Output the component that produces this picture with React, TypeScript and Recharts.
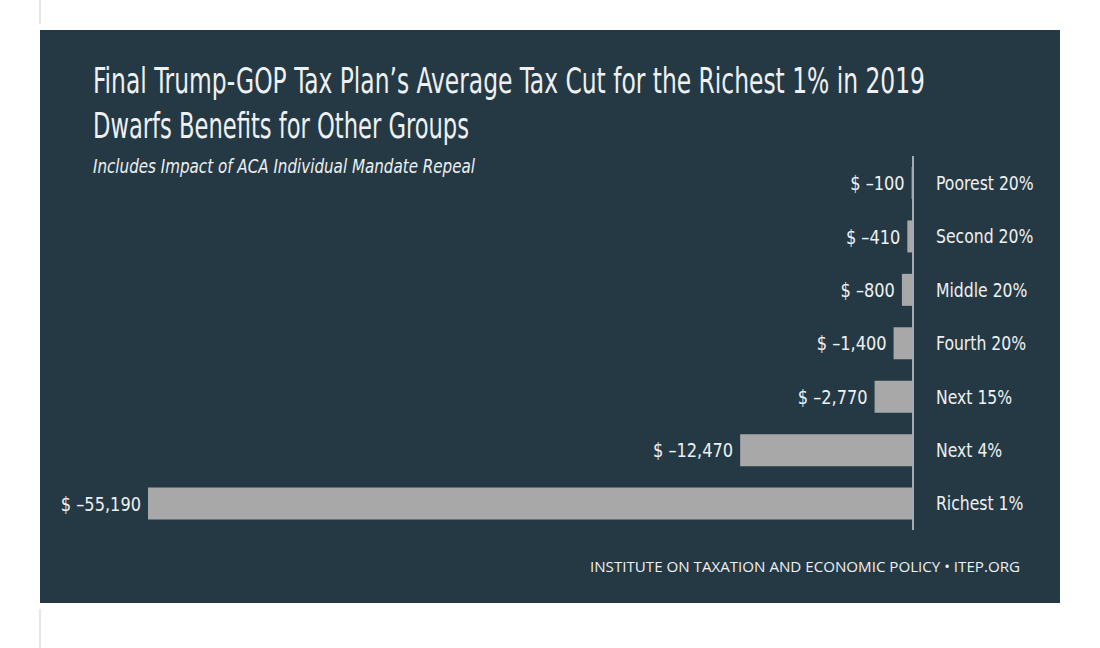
import React from "react";
import { BarChart, Bar, XAxis, YAxis, ReferenceLine, LabelList } from "recharts";

const categories = ["Poorest 20%", "Second 20%", "Middle 20%", "Fourth 20%", "Next 15%", "Next 4%", "Richest 1%"];
const taxCut = [-100, -410, -800, -1400, -2770, -12470, -55190];

const titleLines = [
  "Final Trump-GOP Tax Plan\u2019s Average Tax Cut for the Richest 1% in 2019",
  "Dwarfs Benefits for Other Groups",
];
const subtitle = "Includes Impact of ACA Individual Mandate Repeal";
const footer = "INSTITUTE ON TAXATION AND ECONOMIC POLICY \u2022 ITEP.ORG";

const data = categories.map((name, i) => ({ name, value: taxCut[i] }));

const NARROW = "'Liberation Sans Narrow', 'DejaVu Sans Condensed', 'Roboto', sans-serif";
const PANEL = "#253945";
const TEXT = "#eef0f1";
const BAR = "#a8a8a8";

const fmt = (v: number) => `$ \u2013${Math.abs(v).toLocaleString("en-US")}`;

const ValueLabel = (props: any) => {
  const { x, y, width, height, value } = props;
  const left = Math.min(Number(x), Number(x) + Number(width));
  const tx = left - 7;
  const ty = Number(y) + Number(height) / 2;
  return (
    <g transform={`translate(${tx},${ty}) scale(0.9,1)`}>
      <text x={0} y={0} dy="0.36em" textAnchor="end" fill={TEXT} fontSize={20} fontFamily={NARROW}>
        {fmt(Number(value))}
      </text>
    </g>
  );
};

const CategoryTick = (props: any) => {
  const { x, y, payload } = props;
  return (
    <g transform={`translate(${Number(x)},${Number(y)}) scale(0.87,1)`}>
      <text x={0} y={0} dy="0.36em" textAnchor="start" fill={TEXT} fontSize={20} fontFamily={NARROW}>
        {payload.value}
      </text>
    </g>
  );
};

export default function App() {
  return (
    <div style={{ position: "absolute", left: 0, top: 0, width: 1100, height: 648, background: "#fff", overflow: "hidden" }}>
      <svg width={1100} height={648} style={{ position: "absolute", left: 0, top: 0 }}>
        <rect x={39} y={0} width={2} height={24} fill="#e6e6e6" />
        <rect x={39} y={609} width={2} height={39} fill="#e6e6e6" />
        <rect x={40} y={30} width={1020} height={573} fill={PANEL} />
        <g transform="translate(93,93) scale(1,1.3)">
          <text x={0} y={0} fill={TEXT} fontSize={27} fontFamily={NARROW} textLength={832} lengthAdjust="spacingAndGlyphs">
            {titleLines[0]}
          </text>
        </g>
        <text x={93} y={138} fill={TEXT} fontSize={35} fontFamily={NARROW} textLength={376} lengthAdjust="spacingAndGlyphs">
          {titleLines[1]}
        </text>
        <text x={93} y={173} fill={TEXT} fontSize={19} fontStyle="italic" fontFamily={NARROW} textLength={382} lengthAdjust="spacingAndGlyphs">
          {subtitle}
        </text>
        <text x={590} y={572} fill={TEXT} fontSize={14} fontFamily="'Open Sans', 'DejaVu Sans', sans-serif" textLength={430} lengthAdjust="spacingAndGlyphs">
          {footer}
        </text>
      </svg>
      <div style={{ position: "absolute", left: 0, top: 0 }}>
        <BarChart
          width={1100}
          height={648}
          data={data}
          layout="vertical"
          margin={{ top: 156, bottom: 118, left: 148, right: 0 }}
        >
          <XAxis type="number" domain={[-55190, 0]} hide />
          <YAxis
            type="category"
            dataKey="name"
            orientation="right"
            width={187}
            axisLine={false}
            tickLine={false}
            tickSize={0}
            tickMargin={23}
            tick={<CategoryTick />}
            interval={0}
          />
          <Bar dataKey="value" fill={BAR} barSize={32} isAnimationActive={false}>
            <LabelList dataKey="value" content={ValueLabel} />
          </Bar>
          <ReferenceLine x={0} stroke="#a3acb2" strokeWidth={2} />
        </BarChart>
      </div>
    </div>
  );
}
